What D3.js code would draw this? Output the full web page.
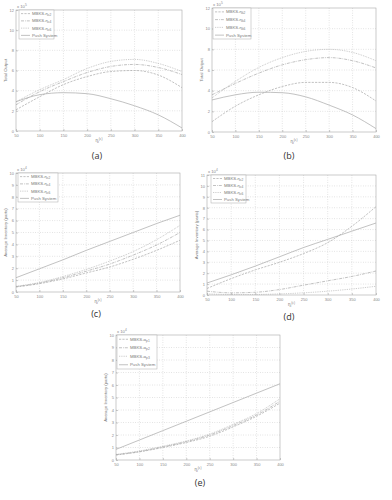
<!DOCTYPE html>
<html><head><meta charset="utf-8">
<script src="https://cdn.jsdelivr.net/npm/d3@7"></script>
<style>body{margin:0;background:#fff}svg{display:block}</style>
</head><body>
<script>
// ---------- data ----------
const etaX = [50,100,150,200,250,300,350,400];
const xTicks = [50,100,150,200,250,300,350,400];

const legendA = ["MBKS-η_c2","MBKS-η_c4","MBKS-η_c6","Push System"];
const legendB = ["MBKS-η_k2","MBKS-η_k4","MBKS-η_k6","Push System"];
const legendE = ["MBKS-α_p1","MBKS-α_p2","MBKS-α_p3","Push System"];

const yTicksA = [0,2,4,6,8,10,12];
const yTicksC = [0,1,2,3,4,5,6,7,8,9,10];
const yTicksD = [0,1,2,3,4,5,6,7,8,9,10,11];

const a_s1 = [2.1,3.4,4.6,5.4,5.9,6.0,5.55,4.3];
const a_s2 = [2.6,3.9,4.9,5.8,6.4,6.6,6.3,5.6];
const a_s3 = [2.9,4.1,5.1,6.2,6.9,7.1,6.7,5.9];
const a_push = [2.9,3.6,3.8,3.7,3.2,2.5,1.6,0.3];

const b_s1 = [1.0,2.5,3.6,4.4,4.8,4.8,4.3,3.0];
const b_s2 = [3.6,4.7,5.7,6.5,7.0,7.2,6.9,6.2];
const b_s3 = [3.3,4.9,6.25,7.2,7.8,8.0,7.7,6.9];
const b_push = [3.1,3.6,3.85,3.8,3.4,2.6,1.65,0.33];

const c_s1 = [0.42,0.7,1.1,1.6,2.1,2.75,3.5,4.35];
const c_s2 = [0.45,0.75,1.2,1.75,2.35,3.1,3.95,5.0];
const c_s3 = [0.48,0.8,1.3,1.9,2.6,3.4,4.4,5.6];
const c_push = [1.2,1.95,2.7,3.5,4.25,5.0,5.75,6.45];

const d_s1 = [0.6,1.5,2.3,3.0,3.8,4.8,6.3,8.1];
const d_s2 = [0.35,0.2,0.25,0.5,0.9,1.3,1.7,2.2];
const d_s3 = [0.1,0.05,0.05,0.1,0.2,0.35,0.55,0.8];
const d_push = [1.1,1.85,2.65,3.5,4.35,5.1,5.85,6.6];

const e_s1 = [0.4,0.65,1.0,1.4,1.9,2.65,3.5,4.55];
const e_s2 = [0.42,0.68,1.05,1.47,2.0,2.75,3.6,4.7];
const e_s3 = [0.45,0.72,1.1,1.52,2.08,2.85,3.72,4.9];
const e_push = [0.85,1.6,2.35,3.1,3.85,4.6,5.35,6.1];

// ---------- drawing ----------
const svg = d3.select("body").append("svg").attr("width",392).attr("height",500);
const dashes = ["2.2,1.2","3,1,0.8,1","0.8,1",null];
const lineCol = "#a8a8a8";

function drawLabel(g, txt, x, y, anchor, size){
  const t = g.append("text").attr("x",x).attr("y",y).attr("text-anchor",anchor||"start")
    .attr("font-family","Liberation Sans, Arial, sans-serif").attr("font-size",size).attr("fill","#7a7a7a");
  const parts = txt.split("_");
  t.append("tspan").text(parts[0]);
  if(parts[1]) t.append("tspan").attr("font-size",size*0.75).attr("dy",size*0.25).text(parts[1]);
  return t;
}

function panel(cfg){
  const g = svg.append("g");
  const x = d3.scaleLinear().domain([50,400]).range([cfg.x0,cfg.x1]);
  const y = d3.scaleLinear().domain([0,cfg.ymax]).range([cfg.y1,cfg.y0]);
  g.selectAll(".gx").data(xTicks.slice(1,-1)).join("line")
    .attr("x1",d=>x(d)).attr("x2",d=>x(d)).attr("y1",cfg.y0).attr("y2",cfg.y1)
    .attr("stroke","#c8c8c8").attr("stroke-width",0.6).attr("stroke-dasharray","0.8,1.6");
  g.selectAll(".gy").data(cfg.yTicks.slice(1,-1)).join("line")
    .attr("y1",d=>y(d)).attr("y2",d=>y(d)).attr("x1",cfg.x0).attr("x2",cfg.x1)
    .attr("stroke","#c8c8c8").attr("stroke-width",0.6).attr("stroke-dasharray","0.8,1.6");
  const xa = g.append("g").attr("transform",`translate(0,${cfg.y1})`)
    .call(d3.axisBottom(x).tickValues(xTicks).tickSize(-2).tickPadding(3));
  const ya = g.append("g").attr("transform",`translate(${cfg.x0},0)`)
    .call(d3.axisLeft(y).tickValues(cfg.yTicks).tickSize(-2).tickPadding(2));
  [xa,ya].forEach(a=>{
    a.select(".domain").remove();
    a.selectAll("line").attr("stroke","#999").attr("stroke-width",0.5);
    a.selectAll("text").attr("font-size",4).attr("fill","#888").attr("font-family","Liberation Sans, Arial, sans-serif");
  });
  g.append("rect").attr("x",cfg.x0).attr("y",cfg.y0).attr("width",cfg.x1-cfg.x0).attr("height",cfg.y1-cfg.y0)
    .attr("fill","none").attr("stroke","#a8a8a8").attr("stroke-width",0.6);
  g.append("text").attr("x",cfg.x0+1).attr("y",cfg.y0-2).attr("font-size",4.2).attr("fill","#888")
    .attr("font-family","Liberation Sans, Arial, sans-serif").text("x 10").append("tspan")
    .attr("font-size",3.2).attr("dy",-2).text(cfg.exp);
  const line = d3.line().x((d,i)=>x(etaX[i])).y(d=>y(d)).curve(d3.curveMonotoneX);
  cfg.series.forEach((s,i)=>{
    g.append("path").datum(s).attr("d",line).attr("fill","none").attr("stroke",lineCol)
      .attr("stroke-width",0.7).attr("stroke-dasharray",dashes[i]);
  });
  const L = g.append("g").attr("transform",`translate(${cfg.lx},${cfg.y0})`);
  L.append("rect").attr("width",cfg.lw).attr("height",cfg.lh).attr("fill","#fff")
    .attr("stroke","#aaa").attr("stroke-width",0.5);
  const step = cfg.lh/4;
  cfg.legend.forEach((t,i)=>{
    const yy = step*(i+0.5);
    L.append("line").attr("x1",2).attr("x2",11).attr("y1",yy).attr("y2",yy)
      .attr("stroke",lineCol).attr("stroke-width",0.7).attr("stroke-dasharray",dashes[i]);
    drawLabel(L,t,13,yy+1.5,"start",4.3);
  });
  const xl = drawLabel(g,"η_i",(cfg.x0+cfg.x1)/2,cfg.y1+11,"middle",4.5);
  xl.append("tspan").attr("font-size",3.2).attr("dy",-3.5).text("(c)");
  g.append("text").attr("transform",`translate(${cfg.x0-9},${(cfg.y0+cfg.y1)/2}) rotate(-90)`)
    .attr("text-anchor","middle").attr("font-size",4.3).attr("fill","#7a7a7a")
    .attr("font-family","Liberation Sans, Arial, sans-serif").text(cfg.ylabel);
  svg.append("text").attr("x",cfg.cx).attr("y",cfg.cy).attr("text-anchor","middle")
    .attr("font-family","Open Sans, Noto Sans, sans-serif").attr("font-size",9).attr("fill","#333").text(cfg.caption);
}

panel({x0:16,x1:182,y0:10,y1:131,ymax:12,yTicks:yTicksA,exp:"5",series:[a_s1,a_s2,a_s3,a_push],
  legend:legendA,lx:19,lw:35,lh:29,ylabel:"Total Output",caption:"(a)",cx:97,cy:159});
panel({x0:212,x1:376,y0:8,y1:132,ymax:12,yTicks:yTicksA,exp:"5",series:[b_s1,b_s2,b_s3,b_push],
  legend:legendB,lx:213,lw:38,lh:31,ylabel:"Total Output",caption:"(b)",cx:289,cy:159});
panel({x0:16,x1:180,y0:173,y1:292,ymax:10,yTicks:yTicksC,exp:"4",series:[c_s1,c_s2,c_s3,c_push],
  legend:legendA,lx:18,lw:40,lh:29,ylabel:"Average Inventory (parts)",caption:"(c)",cx:96,cy:317});
panel({x0:207,x1:376,y0:175,y1:295,ymax:11,yTicks:yTicksD,exp:"4",series:[d_s1,d_s2,d_s3,d_push],
  legend:legendA,lx:211,lw:35,lh:28,ylabel:"Average Inventory (parts)",caption:"(d)",cx:289,cy:320});
panel({x0:116,x1:280,y0:335,y1:460,ymax:10,yTicks:yTicksC,exp:"4",series:[e_s1,e_s2,e_s3,e_push],
  legend:legendE,lx:117,lw:40,lh:34,ylabel:"Average Inventory (parts)",caption:"(e)",cx:200,cy:486});
</script>
</body></html>
